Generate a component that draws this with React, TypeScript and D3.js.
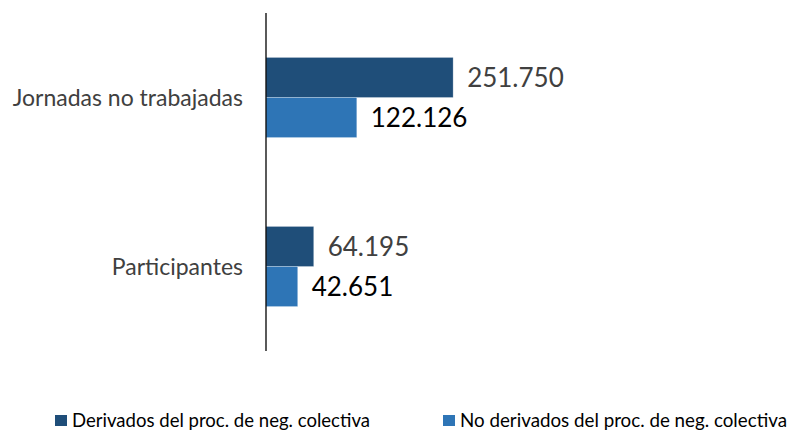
import React from "react";
import { scaleBand, scaleLinear } from "d3";

const categories = ["Jornadas no trabajadas", "Participantes"];
const seriesNames = [
  "Derivados del proc. de neg. colectiva",
  "No derivados del proc. de neg. colectiva",
];
const derivados = [251750, 64195];
const noDerivados = [122126, 42651];
const valueLabels = [
  ["251.750", "64.195"],
  ["122.126", "42.651"],
];

const colors = ["#1F4E79", "#2E75B6"];
const labelColors = ["#404040", "#000000"];

export default function App() {
  const width = 797;
  const height = 432;
  const font = "Lato, 'Open Sans', sans-serif";

  const x = scaleLinear().domain([0, 300000]).range([266, 489]);
  const y = scaleBand().domain(categories).range([13, 351]).padding(0);
  const ySub = scaleBand()
    .domain(seriesNames)
    .range([0, y.bandwidth()])
    .paddingInner(0)
    .paddingOuter(1.11);

  const series = [derivados, noDerivados];

  return (
    <div
      style={{
        position: "fixed",
        left: 0,
        top: 0,
        width,
        height,
        overflow: "hidden",
        background: "#fff",
      }}
    >
      <svg width={width} height={height} style={{ display: "block" }}>
        {/* bars */}
        {series.map((vals, si) => (
          <g key={si} fill={colors[si]}>
            {categories.map((c, ci) => (
              <rect
                key={c}
                x={x(0)}
                y={(y(c) ?? 0) + (ySub(seriesNames[si]) ?? 0)}
                width={x(vals[ci]) - x(0)}
                height={ySub.bandwidth()}
                stroke="#ffffff"
                strokeOpacity={0.35}
                strokeWidth={0.75}
              />
            ))}
          </g>
        ))}
        {/* value labels */}
        {series.map((vals, si) =>
          categories.map((c, ci) => (
            <text
              key={`${si}-${c}`}
              x={x(vals[ci]) + 14}
              y={(y(c) ?? 0) + (ySub(seriesNames[si]) ?? 0) + ySub.bandwidth() / 2}
              dy="0.36em"
              fontFamily={font}
              fontSize={26}
              fill={labelColors[si]}
            >
              {valueLabels[si][ci]}
            </text>
          ))
        )}
        {/* axis line */}
        <line x1={x(0)} x2={x(0)} y1={13} y2={351} stroke="#000" strokeWidth={1.3} />
        {/* category labels */}
        {categories.map((c) => (
          <text
            key={c}
            x={243}
            y={(y(c) ?? 0) + y.bandwidth() / 2}
            dy="0.36em"
            textAnchor="end"
            fontFamily={font}
            fontSize={23}
            fill="#404040"
          >
            {c}
          </text>
        ))}
        {/* legend */}
        {seriesNames.map((s, i) => {
          const lx = i === 0 ? 55 : 443;
          const tw = i === 0 ? 298 : 327;
          return (
            <g key={s} transform={`translate(${lx},427)`}>
              <rect x={0} y={-12} width={12} height={11} fill={colors[i]} />
              <text
                x={17}
                y={0}
                fontFamily={font}
                fontSize={19}
                fill="#000"
                textLength={tw}
                lengthAdjust="spacingAndGlyphs"
              >
                {s}
              </text>
            </g>
          );
        })}
      </svg>
    </div>
  );
}
